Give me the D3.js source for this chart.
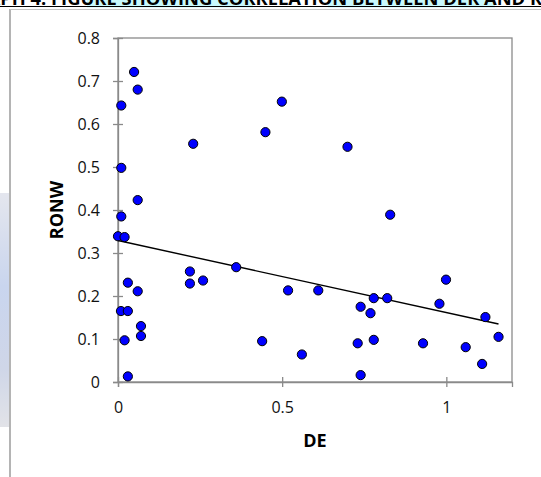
<!DOCTYPE html>
<html>
<head>
<meta charset="utf-8">
<script src="https://cdn.jsdelivr.net/npm/d3@7"></script>
<style>
  body { margin: 0; background: #fff; }
  svg { display: block; }
</style>
</head>
<body>
<svg id="chart" width="541" height="477"></svg>
<script>
// values
const deValues = [0.049, 0.060, 0.010, 0.229, 0.010, 0.060, 0.010, 0.000, 0.020, 0.219,
  0.219, 0.030, 0.060, 0.009, 0.030, 0.070, 0.070, 0.020, 0.030, 0.499,
  0.449, 0.699, 0.259, 0.360, 0.439, 0.518, 0.560, 0.610, 0.730, 0.739,
  0.769, 0.779, 0.779, 0.739, 0.829, 0.820, 0.999, 0.979, 0.929, 1.119,
  1.159, 1.059, 1.109];
const ronwValues = [0.721, 0.680, 0.643, 0.554, 0.498, 0.423, 0.385, 0.339, 0.337, 0.257,
  0.229, 0.231, 0.211, 0.165, 0.165, 0.130, 0.107, 0.097, 0.013, 0.652,
  0.581, 0.547, 0.236, 0.267, 0.095, 0.213, 0.064, 0.213, 0.090, 0.175,
  0.160, 0.195, 0.098, 0.016, 0.389, 0.195, 0.238, 0.182, 0.090, 0.151,
  0.105, 0.081, 0.042];
// trend line as drawn in the picture (start/end RONW at DE = 0 and DE = max)
const trendDE = [0, 1.159];
const trendRONW = [0.329, 0.135];
const xTicks = [0, 0.5, 1];
const yTicks = [0, 0.1, 0.2, 0.3, 0.4, 0.5, 0.6, 0.7, 0.8];
const titleText = 'GRAPH 4: FIGURE SHOWING CORRELATION BETWEEN DER AND RONW';

const points = deValues.map((d, i) => ({ de: d, ronw: ronwValues[i] }));

const svg = d3.select('#chart');
const margin = { left: 118, top: 38, right: 29, bottom: 95 };
const width = 541 - margin.left - margin.right;
const height = 477 - margin.top - margin.bottom;

const x = d3.scaleLinear().domain([0, 1.2]).range([0, width]);
const y = d3.scaleLinear().domain([0, 0.8]).range([height, 0]);

// page bits around the chart (word document frame)
const grad = svg.append('defs').append('linearGradient')
  .attr('id', 'strip').attr('x1', 0).attr('y1', 0).attr('x2', 0).attr('y2', 1);
grad.append('stop').attr('offset', '0%').attr('stop-color', '#e4e6ee');
grad.append('stop').attr('offset', '40%').attr('stop-color', '#c9d5ee');
grad.append('stop').attr('offset', '75%').attr('stop-color', '#cfd6e8');
grad.append('stop').attr('offset', '100%').attr('stop-color', '#e2e3e8');
svg.append('rect').attr('x', 0).attr('y', 193).attr('width', 9).attr('height', 234)
  .attr('fill', 'url(#strip)');

svg.append('line').attr('x1', 10).attr('x2', 10).attr('y1', 9).attr('y2', 477)
  .attr('stroke', '#b4b4b4').attr('stroke-width', 2);
svg.append('line').attr('x1', 10).attr('x2', 541).attr('y1', 9.5).attr('y2', 9.5)
  .attr('stroke', '#c4c4c4').attr('stroke-width', 1);

// title, cut off at the top edge
const hl = svg.append('g');
hl.append('rect').attr('x', 87).attr('y', 0).attr('width', 166).attr('height', 7.5).attr('fill', '#c8f9fd');
hl.append('rect').attr('x', 328).attr('y', 0).attr('width', 167).attr('height', 7.5).attr('fill', '#c8f9fd');

const title = svg.append('text')
  .attr('y', 5)
  .attr('font-family', 'Open Sans, sans-serif')
  .attr('font-weight', 'bold')
  .attr('font-size', 18)
  .attr('fill', '#000')
  .text(titleText);
const idx = titleText.indexOf('BETWEEN');
const idxR = titleText.indexOf('RONW');
// size so that "BETWEEN DER AND " spans like the picture
const span = title.node().getSubStringLength(idx, idxR - idx);
title.attr('font-size', 18 * 178 / span);
const offset = title.node().getSubStringLength(0, idx);
title.attr('x', 352 - offset);
svg.append('line').attr('x1', 0).attr('x2', 541).attr('y1', 6.5).attr('y2', 6.5)
  .attr('stroke', '#000').attr('stroke-width', 1);

const g = svg.append('g').attr('transform', `translate(${margin.left},${margin.top})`);

// plot frame
g.append('rect').attr('width', width).attr('height', height)
  .attr('fill', '#fff').attr('stroke', '#8a8a8a').attr('stroke-width', 1.3);

const yAxis = g.append('g')
  .call(d3.axisLeft(y).tickValues(yTicks).tickSize(5).tickPadding(13).tickFormat(d3.format('~g')));
const xAxis = g.append('g')
  .attr('transform', `translate(0,${height})`)
  .call(d3.axisBottom(x).tickValues(xTicks).tickSize(5).tickPadding(15).tickFormat(d3.format('~g')));

[yAxis, xAxis].forEach(a => {
  a.select('.domain').attr('stroke', '#8a8a8a').attr('stroke-width', 1.3);
  a.selectAll('.tick line').attr('stroke', '#8a8a8a').attr('stroke-width', 1.3);
  a.selectAll('.tick text')
    .attr('font-family', 'Open Sans, sans-serif')
    .attr('font-size', 16)
    .attr('fill', '#111');
});
yAxis.selectAll('.tick line').attr('x1', 5);
xAxis.selectAll('.tick line').attr('y1', -5);

// trend line
g.append('line')
  .attr('x1', x(trendDE[0])).attr('y1', y(trendRONW[0]))
  .attr('x2', x(trendDE[1])).attr('y2', y(trendRONW[1]))
  .attr('stroke', '#000').attr('stroke-width', 1.4);

g.selectAll('.dot')
  .data(points)
  .enter()
  .append('circle')
  .classed('dot', true)
  .attr('cx', d => x(d.de))
  .attr('cy', d => y(d.ronw))
  .attr('r', 4.6)
  .attr('fill', '#0000ff')
  .attr('stroke', '#000')
  .attr('stroke-width', 1);

// axis titles
g.append('text')
  .attr('x', width / 2).attr('y', height + 65)
  .attr('text-anchor', 'middle')
  .attr('font-family', 'Open Sans, sans-serif').attr('font-weight', 'bold').attr('font-size', 18)
  .text('DE');
g.append('text')
  .attr('transform', `translate(${-55},${height / 2}) rotate(-90)`)
  .attr('text-anchor', 'middle')
  .attr('font-family', 'Open Sans, sans-serif').attr('font-weight', 'bold').attr('font-size', 18)
  .text('RONW');
</script>
</body>
</html>
